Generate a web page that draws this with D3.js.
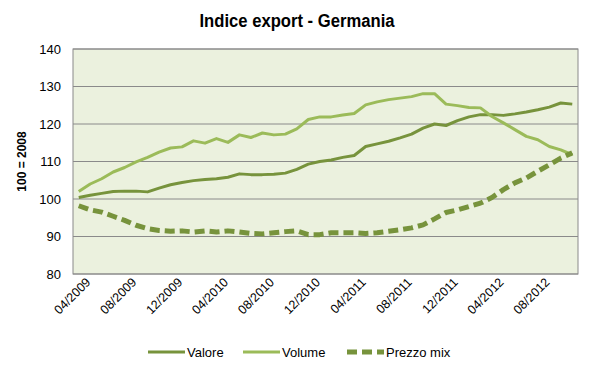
<!DOCTYPE html>
<html>
<head>
<meta charset="utf-8">
<script src="https://cdn.jsdelivr.net/npm/d3@7"></script>
<style>
  body { margin: 0; background: #fff; }
  svg { display: block; font-family: "Liberation Sans", Arial, sans-serif; }
</style>
</head>
<body>
<div id="chart"></div>
<script>

// months 04/2009 .. 11/2012
var months = [];
(function() {
  var m = 4, y = 2009;
  for (var i = 0; i < 44; i++) {
    months.push((m < 10 ? "0" + m : "" + m) + "/" + y);
    m++;
    if (m > 12) { m = 1; y++; }
  }
})();

var valore = [100.4, 101.0, 101.5, 102.0, 102.1, 102.1, 101.9, 102.9, 103.8, 104.4,
  104.9, 105.2, 105.4, 105.8, 106.7, 106.5, 106.5, 106.6, 106.9, 107.9,
  109.3, 110.0, 110.4, 111.1, 111.6, 114.0, 114.7, 115.4, 116.3, 117.3,
  118.9, 120.0, 119.6, 120.9, 121.9, 122.5, 122.5, 122.3, 122.7, 123.2,
  123.8, 124.5, 125.6, 125.3];

var volume = [102.0, 104.0, 105.4, 107.2, 108.4, 109.9, 111.1, 112.5, 113.6, 113.9,
  115.5, 114.9, 116.1, 115.1, 117.1, 116.4, 117.6, 117.1, 117.3, 118.7,
  121.2, 121.9, 121.9, 122.4, 122.8, 125.1, 125.9, 126.5, 126.9, 127.3,
  128.1, 128.1, 125.3, 124.9, 124.4, 124.3, 122.0, 120.3, 118.5, 116.7,
  115.8, 114.0, 113.1, 111.8];

var prezzo = [98.2, 97.1, 96.5, 95.4, 94.3, 93.0, 92.1, 91.6, 91.4, 91.5,
  91.2, 91.5, 91.2, 91.5, 91.2, 90.8, 90.7, 91.0, 91.3, 91.5,
  90.5, 90.5, 91.0, 91.0, 91.0, 90.8, 91.0, 91.4, 91.8, 92.3,
  93.1, 94.7, 96.4, 97.1, 98.0, 98.9, 100.4, 102.5, 104.3, 105.6,
  107.4, 109.1, 110.9, 112.3];

var yTicks = [80, 90, 100, 110, 120, 130, 140];

var series = [
  {name: "Valore", values: valore, color: "#77933C", width: 3, dash: null},
  {name: "Volume", values: volume, color: "#9BBB59", width: 3, dash: null},
  {name: "Prezzo mix", values: prezzo, color: "#77933C", width: 5, dash: "10,5"}
];

var W = 597, H = 374;
var margin = {top: 49, right: 19, bottom: 100, left: 73};
var width = W - margin.left - margin.right,
    height = H - margin.top - margin.bottom;

var svg = d3.select("#chart").append("svg")
    .attr("width", W)
    .attr("height", H);

// title (narrow bold look)
svg.append("text")
    .attr("x", 297)
    .attr("y", 27)
    .attr("text-anchor", "middle")
    .attr("textLength", 195)
    .attr("lengthAdjust", "spacingAndGlyphs")
    .style("font-weight", "bold")
    .style("font-size", "18px")
    .text("Indice export - Germania");

var g = svg.append("g")
    .attr("transform", "translate(" + margin.left + "," + margin.top + ")");

var x = d3.scaleBand()
    .domain(months)
    .range([0, width]);

var y = d3.scaleLinear()
    .domain([80, 140])
    .range([height, 0]);

// plot background
g.append("rect")
    .attr("width", width)
    .attr("height", height)
    .style("fill", "#EBF1DE");

// grid lines
g.selectAll(".grid")
    .data(yTicks)
  .enter().append("line")
    .attr("x1", 0)
    .attr("x2", width)
    .attr("y1", function(d) { return y(d); })
    .attr("y2", function(d) { return y(d); })
    .style("stroke", "#8a8a8a")
    .style("stroke-width", 1);

// plot border
g.append("rect")
    .attr("width", width)
    .attr("height", height)
    .style("fill", "none")
    .style("stroke", "#8a8a8a")
    .style("stroke-width", 1);

// y axis labels
var yAxis = d3.axisLeft(y).tickValues(yTicks).tickSize(0).tickPadding(12);
g.append("g")
    .attr("class", "y axis")
    .call(yAxis)
    .call(function(s) { s.select(".domain").remove(); })
    .selectAll("text")
    .style("font-size", "13px")
    .style("fill", "#000");

svg.append("text")
    .attr("transform", "translate(26," + (margin.top + height / 2) + ") rotate(-90)")
    .attr("text-anchor", "middle")
    .style("font-weight", "bold")
    .style("font-size", "12px")
    .text("100 = 2008");

// x axis labels (every 4 months)
var xAxis = d3.axisBottom(x)
    .tickValues(months.filter(function(d, i) { return i % 4 === 0; }))
    .tickSize(0);
g.append("g")
    .attr("class", "x axis")
    .attr("transform", "translate(0," + height + ")")
    .call(xAxis)
    .call(function(s) { s.select(".domain").remove(); })
    .selectAll("text")
    .style("font-size", "12.5px")
    .style("fill", "#000")
    .style("text-anchor", "end")
    .attr("dx", "0.2em")
    .attr("dy", "0.9em")
    .attr("y", 4)
    .attr("transform", "rotate(-45)");

// lines
var line = d3.line()
    .x(function(d, i) { return x(months[i]) + x.bandwidth() / 2; })
    .y(function(d) { return y(d); });

series.forEach(function(s) {
  g.append("path")
      .datum(s.values)
      .attr("d", line)
      .style("fill", "none")
      .style("stroke", s.color)
      .style("stroke-width", s.width)
      .style("stroke-linejoin", "round")
      .style("stroke-dasharray", s.dash);
});

// legend
var legendX = [148, 243, 347];
var legend = svg.selectAll(".legend")
    .data(series)
  .enter().append("g")
    .attr("transform", function(d, i) { return "translate(" + legendX[i] + ",352)"; });

legend.append("line")
    .attr("x1", 0)
    .attr("x2", 37)
    .style("stroke", function(d) { return d.color; })
    .style("stroke-width", function(d) { return d.width; })
    .style("stroke-dasharray", function(d) { return d.dash; });

legend.append("text")
    .attr("x", 39)
    .attr("dy", "0.35em")
    .style("font-size", "13px")
    .text(function(d) { return d.name; });

</script>
</body>
</html>
